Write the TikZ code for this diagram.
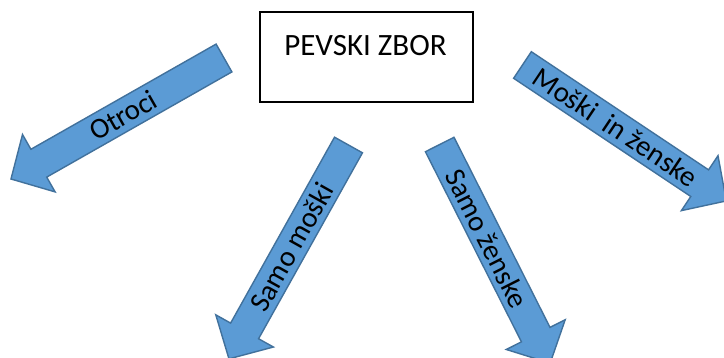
\documentclass[tikz,border=0pt]{standalone}
\usepackage{fontspec}
\setmainfont{Carlito}
\definecolor{arrfill}{HTML}{5B9BD5}
\definecolor{arredge}{HTML}{41719C}
\tikzset{
  blockarrow/.style={fill=arrfill, draw=arredge, line width=1.4pt, line join=miter},
  arrlabel/.style={font=\fontsize{29}{31}\selectfont, inner sep=0pt, transform shape},
  titlebox/.style={draw=black, line width=2.2pt, fill=white, minimum width=213pt, minimum height=90pt, inner sep=0pt},
  titlelabel/.style={font=\fontsize{31}{33}\selectfont, inner sep=0pt}
}
\newcommand\choirarrow[6]{%
  \begin{scope}[shift={(#2)}, rotate=#3]
    \draw[blockarrow] (0,-16) -- (213,-16) -- (213,-33) -- (245,0) -- (213,33) -- (213,16) -- (0,16) -- cycle;
    \coordinate (#1-tail) at (0,0);
    \node[arrlabel, rotate=#5] (#1) at (#4,0) {#6};
  \end{scope}}
\begin{document}
\begin{tikzpicture}[x=1pt,y=1pt]
  \useasboundingbox (0,0) rectangle (724,357);
  \clip (0,0) rectangle (724,357);
  \fill[white] (0,0) rectangle (724,357);
  \choirarrow{otroci}{224,299}{209.6}{116}{180}{Otroci}
  \choirarrow{moski}{348.5,212}{240.8}{117}{180}{Samo moški}
  \choirarrow{zenske}{439.7,212.5}{-63.2}{105}{0}{Samo ženske}
  \choirarrow{oboji}{522.5,292}{-33.7}{112}{0}{Moški\ \ in ženske}
  \node[titlebox] (zbor) at (366.5,300) {};
  \node[titlelabel, anchor=base] (zbortext) at (365.5,301) {PEVSKI ZBOR};
\end{tikzpicture}
\end{document}
